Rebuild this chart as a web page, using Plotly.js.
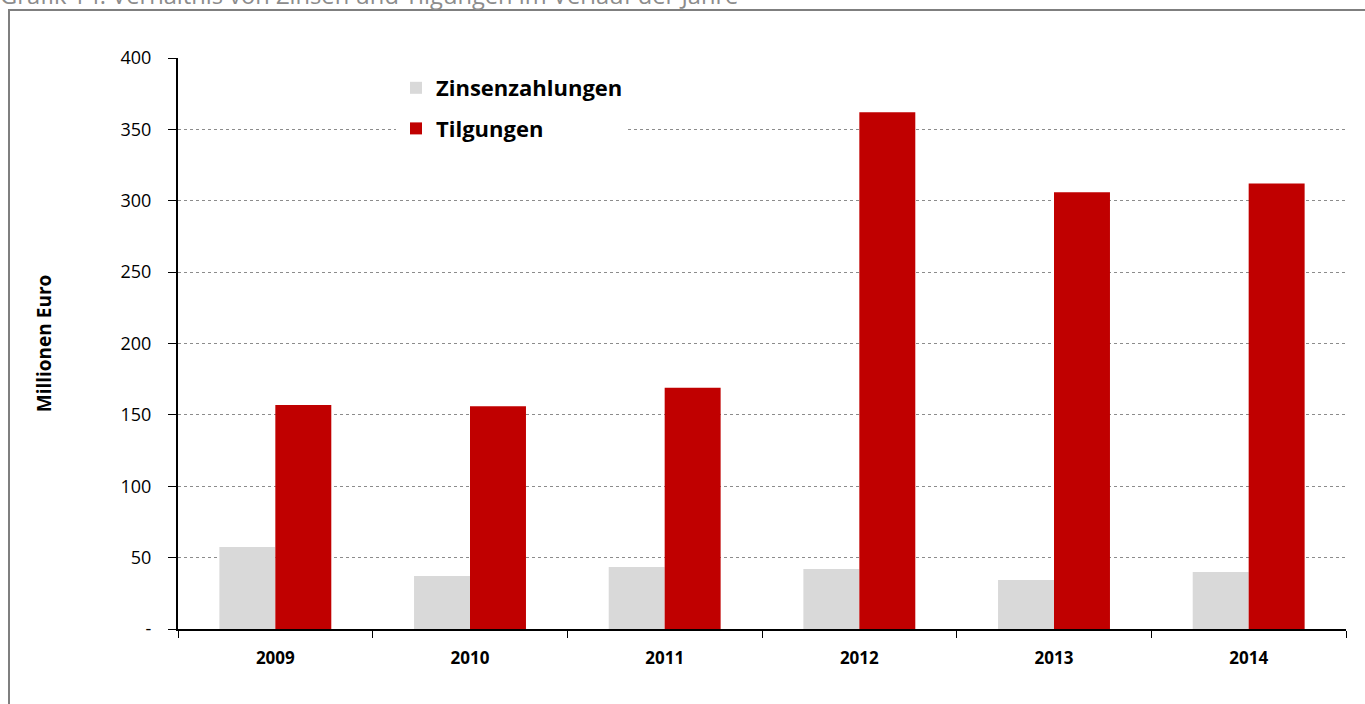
<!DOCTYPE html>
<html>
<head>
<meta charset="utf-8">
<script src="https://cdn.plot.ly/plotly-3.0.1.min.js"></script>
<style>
html,body{margin:0;padding:0;background:#fff;}
#chart{width:1365px;height:704px;}
</style>
</head>
<body>
<div id="chart"></div>
<script>
const years = ["2009", "2010", "2011", "2012", "2013", "2014"];
const zinsen = [57.4, 37.1, 43.4, 42.0, 34.3, 39.9];
const tilgungen = [157, 156, 169, 362, 306, 312];
const yTickVals = [0, 50, 100, 150, 200, 250, 300, 350, 400];
const yTickText = ["-", "50", "100", "150", "200", "250", "300", "350", "400"];
const titleText = "Grafik 14: Verhältnis von Zinsen und Tilgungen im Verlauf der Jahre";
const yTitle = "Millionen Euro";

const FONT = "Open Sans, Liberation Sans, sans-serif";

const traces = [
  {type: "bar", name: "Zinsenzahlungen", x: years, y: zinsen,
   marker: {color: "#d9d9d9"}, legendgroup: "a", hoverinfo: "y"},
  {type: "bar", name: "Tilgungen", x: years, y: tilgungen,
   marker: {color: "#c00000"}, legendgroup: "b", hoverinfo: "y"}
];

const L = 178, R = 1346, T = 58, B = 629;
const px = v => (v - L) / (R - L);
const py = v => (B - v) / (B - T);

const layout = {
  width: 1365, height: 704,
  margin: {l: L, r: 1365 - R, t: T, b: 704 - B, pad: 0},
  paper_bgcolor: "#fff", plot_bgcolor: "#fff",
  font: {family: FONT, color: "#000"},
  barmode: "group", bargap: 0.425, bargroupgap: 0,
  showlegend: true,
  legend: {x: px(396), y: py(67), xanchor: "left", yanchor: "top",
    bgcolor: "#fff", traceorder: "grouped", tracegroupgap: 9,
    font: {family: FONT, size: 22, color: "#000", weight: "bold"},
    itemwidth: 30},
  xaxis: {
    type: "category", showline: true, linecolor: "#000", linewidth: 2,
    ticks: "outside", tickson: "boundaries", ticklen: 7, tickcolor: "#000", tickwidth: 1,
    tickfont: {family: FONT, size: 17, weight: "bold", color: "#000"},
    ticklabelstandoff: 13,
    showgrid: false, zeroline: false, fixedrange: true
  },
  yaxis: {
    range: [0, 400], tickvals: yTickVals, ticktext: yTickText,
    showline: true, linecolor: "#000", linewidth: 2,
    ticks: "outside", ticklen: 8, tickcolor: "#000", tickwidth: 1,
    tickfont: {family: FONT, size: 18, color: "#000"},
    ticklabelstandoff: 13,
    showgrid: true, gridcolor: "#8c8c8c", griddash: "dot", gridwidth: 1,
    zeroline: false, fixedrange: true,
    title: {text: yTitle, font: {family: FONT, size: 19, weight: "bold", color: "#000"}, standoff: 64}
  },
  annotations: [{
    text: titleText, xref: "paper", yref: "paper",
    x: px(-2), y: py(-5), xanchor: "left", yanchor: "middle", showarrow: false,
    font: {family: FONT, size: 23.7, color: "#8c8c8c"}
  }],
  shapes: [{
    type: "rect", xref: "paper", yref: "paper",
    x0: px(9), x1: px(1370), y0: py(712), y1: py(10),
    line: {color: "#7f7f7f", width: 2}, fillcolor: "rgba(0,0,0,0)", layer: "below"
  }]
};

Plotly.newPlot("chart", traces, layout, {displayModeBar: false, staticPlot: true});
</script>
</body>
</html>
